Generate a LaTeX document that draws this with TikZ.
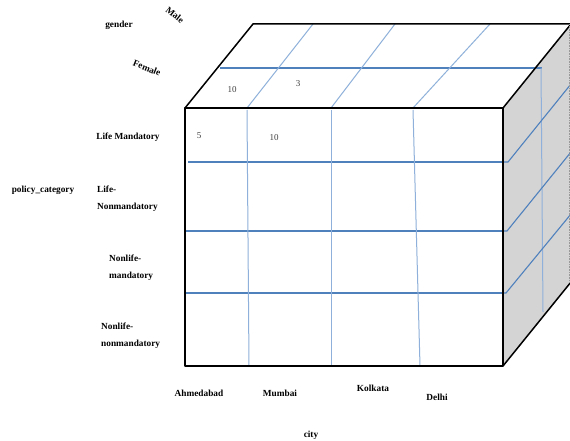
\documentclass[tikz,border=0pt]{standalone}
\usepackage{fontspec}
\setmainfont{Liberation Serif}
\begin{document}
\begin{tikzpicture}[x=1pt,y=-1pt,
  edge/.style={black,line width=1.5pt,line join=round},
  grid/.style={draw=gridblue,line width=1.1pt},
  vgrid/.style={draw=gridlight,line width=1pt},
  lbl/.style={font=\fontsize{9.3}{17}\selectfont\bfseries,inner sep=0pt},
  lbll/.style={lbl,align=left},
  num/.style={font=\fontsize{9}{10}\selectfont,text=black!75,inner sep=0pt}]
\definecolor{gridblue}{HTML}{4F81BD}
\definecolor{gridlight}{HTML}{8EB0DA}
\definecolor{sidegray}{HTML}{D4D4D4}
\useasboundingbox (0,0) rectangle (570,441);
% corners
\coordinate (FTL) at (185,108);
\coordinate (FTR) at (503,108);
\coordinate (FBR) at (503,366);
\coordinate (FBL) at (185,366);
\coordinate (BTL) at (253,24);
\coordinate (BTR) at (571,24);
\coordinate (BBR) at (571,282);
% faces
\fill[white] (FTL) -- (BTL) -- (BTR) -- (FTR) -- cycle;
\fill[sidegray] (FTR) -- (BTR) -- (BBR) -- (FBR) -- cycle;
\fill[white] (FTL) rectangle (FBR);
% top face grid
\draw[grid] (220,68) -- (542,68);
\draw[vgrid] (247,108) -- (313,24);
\draw[vgrid] (331,108) -- (395,24);
\draw[vgrid] (413,108) -- (490,24);
% side face grid
\draw[vgrid] (541,68) -- (543,312);
\draw[grid] (503,162) -- (508,162) -- (571,84);
\draw[grid] (503,231) -- (507,231) -- (571,152);
\draw[grid] (503,293) -- (506,293) -- (571,214);
% front face grid
\draw[grid] (188,162) -- (503,162);
\draw[grid] (185,231) -- (503,231);
\draw[grid] (184,293) -- (503,293);
\draw[vgrid] (247,110) -- (249,366);
\draw[vgrid] (331,110) -- (331,366);
\draw[vgrid] (413,110) -- (420,366);
% outline
\draw[edge] (FTL) -- (BTL) -- (BTR);
\draw[edge] (FTL) rectangle (FBR);
\draw[edge] (FTR) -- (BTR);
\draw[edge] (FBR) -- (BBR);
\draw[black!40,densely dotted,line width=0.6pt] (569.5,24) -- (569.5,282);
% cell values
\node[num] (n10a) at (232,90) {10};
\node[num] (n3) at (298,84) {3};
\node[num] (n5) at (199,136) {5};
\node[num] (n10b) at (274,138) {10};
% gender dimension
\node[lbl] (gender) at (119,25) {gender};
\node[lbl,rotate=-38] (male) at (175,15) {Male};
\node[lbl,rotate=-22] (female) at (147,68) {Female};
% policy dimension
\node[lbl] (policy) at (43,190) {policy\_category};
\node[lbl] (lm) at (128,137) {Life Mandatory};
\node[lbll,anchor=north west] (lnm) at (97,186) {Life-\\Nonmandatory};
\node[lbll,anchor=north west] (nlm) at (109,255) {Nonlife-\\mandatory};
\node[lbll,anchor=north west] (nlnm) at (101,323) {Nonlife-\\nonmandatory};
% city dimension
\node[lbl] (ahm) at (199,393) {Ahmedabad};
\node[lbl] (mum) at (280,393) {Mumbai};
\node[lbl] (kol) at (373,388) {Kolkata};
\node[lbl] (del) at (437,397) {Delhi};
\node[lbl] (city) at (311,435) {city};
\end{tikzpicture}
\end{document}
